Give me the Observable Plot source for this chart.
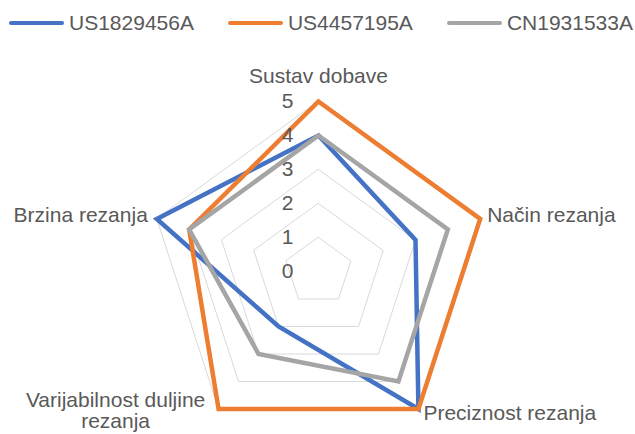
<!DOCTYPE html>
<html><head><meta charset="utf-8">
<script src="https://cdn.jsdelivr.net/npm/d3@7"></script>
<script src="https://cdn.jsdelivr.net/npm/@observablehq/plot@0.6"></script>
<style>
html,body{margin:0;padding:0;background:#fff;font-family:"Liberation Sans",Arial,sans-serif;}
#legend{height:46px;display:flex;align-items:center;padding-left:9px;font-size:21px;color:#595959;white-space:nowrap;}
.item{display:flex;align-items:center;margin-right:34px;}
.sw{width:55px;height:4px;margin-right:5px;border-radius:2px;}
#chart svg{display:block;}
</style></head><body>
<div id="legend"></div>
<div id="chart"></div>
<script>
// ---- data ----
const categories = ["Sustav dobave", "Način rezanja", "Preciznost rezanja", "Varijabilnost duljine\nrezanja", "Brzina rezanja"];
const seriesNames = ["US1829456A", "US4457195A", "CN1931533A"];
const us1829456a = [4, 3, 5, 2, 5];
const us4457195a = [5, 5, 5, 5, 4];
const cn1931533a = [4, 4, 4, 3, 4];
const tickValues = [0, 1, 2, 3, 4, 5];

// ---- style / layout ----
const colors = ["#4472C4", "#ED7D31", "#A5A5A5"];
const maxValue = 5;
const W = 635, H = 388;
const cx = 318, cy = 225, unit = 34;        // pixel layout of the radar
const labelLayout = [
  {anchor: "middle", dx: 0, dy: -25},
  {anchor: "start", dx: 7, dy: -4},
  {anchor: "start", dx: 5, dy: 4},
  {anchor: "middle", dx: -103, dy: 2},
  {anchor: "end", dx: -9, dy: -4}
];

const n = categories.length;
const angle = i => (i * 2 * Math.PI) / n;
const px = (v, i) => v * Math.sin(angle(i));
const py = (v, i) => v * Math.cos(angle(i));

// legend
const legend = document.getElementById("legend");
seriesNames.forEach((s, k) => {
  const it = document.createElement("div");
  it.className = "item";
  const sw = document.createElement("span");
  sw.className = "sw";
  sw.style.background = colors[k];
  const tx = document.createElement("span");
  tx.textContent = s;
  it.appendChild(sw); it.appendChild(tx);
  legend.appendChild(it);
});

// grid pentagons
const grid = [];
tickValues.filter(t => t > 0).forEach(t => {
  categories.forEach((c, i) => grid.push({level: t, x: px(t, i), y: py(t, i)}));
});

// series points
const seriesValues = [us1829456a, us4457195a, cn1931533a];
const pts = [];
seriesNames.forEach((s, k) => {
  seriesValues[k].forEach((v, i) => pts.push({series: s, x: px(v, i), y: py(v, i)}));
});

// category labels
const labels = categories.map((c, i) => ({label: c, x: px(maxValue, i), y: py(maxValue, i), ...labelLayout[i]}));

// tick labels
const tickLabels = tickValues.map(t => ({t, x: 0, y: t}));

const font = {fontFamily: "Liberation Sans, Arial, sans-serif", fontSize: 21, fill: "#595959"};

const chart = Plot.plot({
  width: W, height: H, margin: 0,
  x: {domain: [-cx / unit, (W - cx) / unit], range: [0, W], axis: null},
  y: {domain: [-(H - cy) / unit, cy / unit], range: [H, 0], axis: null},
  color: {domain: seriesNames, range: colors},
  style: {fontFamily: "Liberation Sans, Arial, sans-serif", background: "#fff"},
  marks: [
    Plot.line(grid, {x: "x", y: "y", z: "level", curve: "linear-closed", stroke: "#D9D9D9", strokeWidth: 1}),
    Plot.line(pts, {x: "x", y: "y", z: "series", stroke: "series", curve: "linear-closed", strokeWidth: 4.5, strokeLinejoin: "miter", strokeMiterlimit: 10}),
    Plot.text(tickLabels, {x: "x", y: "y", text: d => String(d.t), dx: -31, textAnchor: "middle", ...font}),
    ...labels.map(l => Plot.text([l], {x: "x", y: "y", text: "label", textAnchor: l.anchor, dx: l.dx, dy: l.dy, lineHeight: 1, ...font}))
  ]
});
document.getElementById("chart").appendChild(chart);
</script>
</body></html>
